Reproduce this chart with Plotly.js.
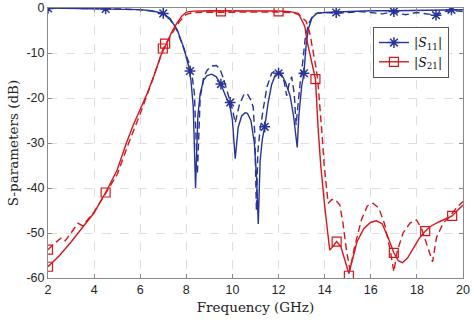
<!DOCTYPE html>
<html>
<head>
<meta charset="utf-8">
<script src="https://cdn.plot.ly/plotly-3.0.1.min.js"></script>
<style>html,body{margin:0;padding:0;background:#fff;}#chart{width:474px;height:322px;}</style>
</head>
<body>
<div id="chart"></div>
<script>
// ---- S11 (solid) ----
const s11SolidF = [2,3,4,5,5.5,6,6.5,7,7.3,7.6,7.9,8.1,8.2,8.3,8.4,8.5,8.6,8.75,8.9,9.1,9.3,9.5,9.7,9.9,10.0,10.12,10.25,10.4,10.55,10.65,10.8,10.95,11.05,11.12,11.2,11.3,11.4,11.55,11.7,11.85,12.0,12.15,12.3,12.5,12.65,12.75,12.81,12.88,13.0,13.1,13.2,13.3,13.45,13.65,14,14.5,15,16,17,18,19,20];
const s11SolidDb = [0,-0.05,-0.1,-0.15,-0.2,-0.35,-0.6,-1.2,-2.4,-4.8,-9,-13,-16,-22,-40,-24,-19,-16,-15,-14.7,-15.3,-17,-19.5,-22,-25,-33.5,-26.5,-24,-23.3,-23.4,-25,-30,-38,-48,-34,-29,-26.4,-21,-17,-15,-14.5,-15,-16.5,-19.5,-24,-28,-31,-24,-17.5,-14.5,-8,-4.5,-2.2,-1.2,-1.0,-0.9,-0.8,-0.6,-0.6,-0.5,-0.4,-0.4];
// ---- S11 (dashed) ----
const s11DashF = [2,3,4,5,6,6.5,7,7.3,7.6,7.9,8.1,8.25,8.35,8.48,8.6,8.75,8.9,9.1,9.3,9.45,9.6,9.8,10.0,10.12,10.3,10.5,10.64,10.8,10.9,10.97,11.04,11.1,11.2,11.35,11.5,11.7,11.9,12.1,12.25,12.35,12.45,12.57,12.68,12.76,12.85,12.95,13.05,13.15,13.3,13.5,13.7,14,14.5,15,15.5,16,16.5,17,17.5,18,18.5,18.83,19.2,19.6,20];
const s11DashDb = [0,-0.05,-0.1,-0.2,-0.4,-0.7,-1.4,-2.6,-5,-9,-12,-15,-19,-37,-20,-15.5,-13.8,-12.9,-12.8,-13.5,-15.5,-19,-22.5,-25.5,-21.5,-19.2,-19,-20.5,-22,-28,-45,-32,-27,-22,-17.5,-14.5,-13.8,-14.5,-16.5,-19.5,-17,-15.3,-19,-26,-21,-16,-12,-7,-3.5,-1.6,-1.1,-1.0,-1.2,-1.0,-0.8,-1.0,-1.3,-0.8,-1.5,-1.0,-1.3,-1.6,-0.8,-0.6,-0.8];
// ---- S21 (solid) ----
const s21SolidF = [2,2.5,3,3.5,4,4.5,5,5.4,5.7,6.0,6.3,6.6,6.9,7.15,7.4,7.6,7.8,8.0,8.3,9,10,11,12,12.5,12.86,13.0,13.14,13.24,13.4,13.6,13.72,13.83,14.0,14.1,14.22,14.35,14.52,14.7,14.85,15.05,15.2,15.4,15.7,16.0,16.25,16.5,16.75,17.0,17.2,17.38,17.6,17.9,18.1,18.36,18.6,18.97,19.2,19.53,19.8,20];
const s21SolidDb = [-57.5,-55,-52,-48.8,-45.5,-41,-36,-30,-26,-22.5,-19,-15,-10.5,-7.8,-5,-3.3,-1.8,-0.9,-0.7,-0.6,-0.6,-0.6,-0.65,-0.8,-1.2,-2.6,-4.1,-7.4,-11.5,-15.8,-27,-35,-44,-49,-53.8,-53,-51.9,-53,-55.5,-59,-56,-52,-49,-47.6,-47.3,-48,-51,-54.4,-56.2,-56.6,-55.5,-53,-51.2,-49.6,-48.5,-47.5,-47,-46.2,-44.8,-43.8];
// ---- S21 (dashed) ----
const s21DashF = [2,2.3,2.6,2.75,3.0,3.3,3.5,3.8,4.0,4.5,5.0,5.5,6.0,6.5,7.0,7.4,7.7,8.0,8.3,9,10,11,12,12.6,12.9,13.1,13.2,13.35,13.5,13.6,13.7,13.8,13.9,13.98,14.08,14.15,14.3,14.45,14.66,14.8,14.95,15.1,15.3,15.6,15.85,16.1,16.35,16.6,16.85,17.0,17.15,17.4,17.7,17.98,18.2,18.45,18.68,18.85,19.14,19.4,19.7,20];
const s21DashDb = [-53.7,-52.2,-51,-51.7,-50,-47.8,-48.4,-46.5,-45.3,-41.2,-37,-30,-23.5,-16.5,-9,-5.5,-3,-1.4,-1.0,-0.95,-0.9,-0.9,-0.9,-1.0,-1.5,-2.5,-3,-5.5,-9.5,-12.5,-16,-22,-29,-35,-41,-43.4,-42.6,-42.5,-43.8,-48,-54,-58.2,-53,-47,-44,-43.4,-44.5,-48,-54,-58.6,-54,-50,-47.8,-47.1,-49,-53,-56.4,-51,-47.8,-46.5,-44.5,-43];
// ---- marker points ----
const s11MarkF = [2,4.5,7,8.16,9.5,9.9,11.4,12.0,13.1,14.5,17,18.83,19.5];
const s11MarkDb = [-0.1,-0.2,-1.2,-14,-16.9,-21,-26.4,-14.5,-14.5,-1.0,-0.8,-1.6,-0.4];
const s21MarkF = [2,2,4.5,6.98,7.08,9.5,12,13.6,14.52,15.05,17,18.36,19.53];
const s21MarkDb = [-57.5,-53.7,-41,-9,-7.9,-0.75,-0.75,-15.8,-51.9,-59.5,-54.4,-49.6,-46.2];
// ---- axes ----
const xTicks = [2,4,6,8,10,12,14,16,18,20];
const xTickText = ['2','4','6','8','10','12','14','16','18','20'];
const yTicks = [0,-10,-20,-30,-40,-50,-60];
const yTickText = ['0','-10','-20','-30','-40','-50','-60'];
const names = ['|<i>S</i><sub>11</sub>|','|<i>S</i><sub>21</sub>|'];

const BLUE = '#27349a';
const RED = '#d7161c';
const DASH = '7px,4px';

const traces = [
  {x:s11SolidF, y:s11SolidDb, mode:'lines', line:{color:BLUE, width:1.4}, showlegend:false},
  {x:s11DashF, y:s11DashDb, mode:'lines', line:{color:BLUE, width:1.4, dash:DASH}, showlegend:false},
  {x:s21SolidF, y:s21SolidDb, mode:'lines', line:{color:RED, width:1.4}, showlegend:false},
  {x:s21DashF, y:s21DashDb, mode:'lines', line:{color:RED, width:1.4, dash:DASH}, showlegend:false},
  {x:s11MarkF, y:s11MarkDb, mode:'markers', marker:{symbol:'asterisk-open', size:9, color:BLUE, line:{color:BLUE, width:1.5}}, showlegend:false},
  {x:s21MarkF, y:s21MarkDb, mode:'markers', marker:{symbol:'square-open', size:9, color:RED, line:{color:RED, width:1.2}}, showlegend:false},
  {x:[null], y:[null], mode:'lines+markers', name:names[0], line:{color:BLUE, width:1.4}, marker:{symbol:'asterisk-open', size:9, color:BLUE, line:{color:BLUE, width:1.5}}},
  {x:[null], y:[null], mode:'lines+markers', name:names[1], line:{color:RED, width:1.4}, marker:{symbol:'square-open', size:9, color:RED, line:{color:RED, width:1.2}}}
];

const axisCommon = {
  showline:true, linecolor:'#8a8a8a', linewidth:1, mirror:'ticks',
  ticks:'inside', ticklen:4, tickcolor:'#8a8a8a', tickwidth:1,
  showgrid:true, gridcolor:'#dedede', griddash:'dash', gridwidth:1,
  zeroline:false, tickfont:{family:'Liberation Sans, Arial, sans-serif', size:12.5, color:'#262626'}
};

const layout = {
  width:474, height:322,
  margin:{l:48, r:11, t:8, b:44},
  paper_bgcolor:'#fff', plot_bgcolor:'#fff',
  showlegend:true,
  legend:{x:0.783, y:0.93, xanchor:'left', yanchor:'top', bgcolor:'#fff', bordercolor:'#555', borderwidth:1,
          font:{family:'DejaVu Serif, serif', size:12.5, color:'#111'}, itemwidth:30, tracegroupgap:0},
  xaxis: Object.assign({}, axisCommon, {range:[2,20], tickvals:xTicks, ticktext:xTickText,
          title:{text:'Frequency (GHz)', font:{family:'DejaVu Serif, serif', size:13.5, color:'#222'}, standoff:6}}),
  yaxis: Object.assign({}, axisCommon, {range:[-60,0], tickvals:yTicks, ticktext:yTickText,
          title:{text:'S-parameters (dB)', font:{family:'DejaVu Serif, serif', size:13.5, color:'#222'}, standoff:4}})
};

Plotly.newPlot('chart', traces, layout, {displayModeBar:false, staticPlot:true});
</script>
</body>
</html>
